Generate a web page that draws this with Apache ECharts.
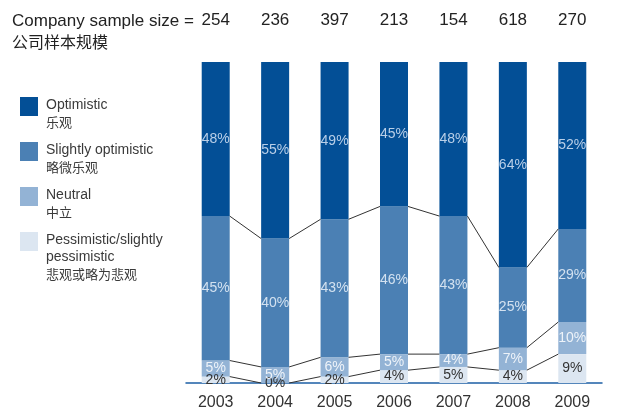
<!DOCTYPE html>
<html>
<head>
<meta charset="utf-8">
<script src="https://cdn.jsdelivr.net/npm/echarts@6/dist/echarts.min.js"></script>
<style>html,body{margin:0;padding:0;background:#fff;}#c{width:627px;height:411px;}</style>
</head>
<body>
<div id="c"></div>
<script>
var years = ['2003','2004','2005','2006','2007','2008','2009'];
var sampleSizes = ['254','236','397','213','154','618','270'];
var pessimistic = [2, 0, 2, 4, 5, 4, 9];
var neutral = [5, 5, 6, 5, 4, 7, 10];
var slightly = [45, 40, 43, 46, 43, 25, 29];
var optimistic = [48, 55, 49, 45, 48, 64, 52];
var seriesNames = ['Optimistic', 'Slightly optimistic', 'Neutral', 'Pessimistic/slightly pessimistic'];
var legendLines = [
  ['Optimistic', '乐观'],
  ['Slightly optimistic', '略微乐观'],
  ['Neutral', '中立'],
  ['Pessimistic/slightly', 'pessimistic', '悲观或略为悲观']
];
var colors = {opt: '#034f96', sl: '#4b80b4', neu: '#93b3d5', pes: '#dce6f1'};
var BW = 28;
var FONT = '"Liberation Sans", Arial, sans-serif';
var CJK = '"Noto Sans CJK SC", sans-serif';

var chart = echarts.init(document.getElementById('c'), null, {renderer: 'canvas'});

var b1 = [], b2 = [], b3 = [];
for (var i = 0; i < years.length; i++) {
  b1.push(pessimistic[i]);
  b2.push(pessimistic[i] + neutral[i]);
  b3.push(pessimistic[i] + neutral[i] + slightly[i]);
}
var connData = [];
for (var j = 0; j < years.length - 1; j++) {
  connData.push([j, b1[j], b2[j], b3[j], b1[j + 1], b2[j + 1], b3[j + 1]]);
}

function lbl(color) {
  return {show: true, position: 'inside', formatter: '{c}%', color: color, fontSize: 14, fontFamily: FONT};
}

var legendColors = [colors.opt, colors.sl, colors.neu, colors.pes];
var rectTops = [97, 142, 187, 232];
var graphics = [];
legendLines.forEach(function (lines, k) {
  var top = rectTops[k];
  graphics.push({type: 'rect', left: 20, top: top, shape: {width: 18, height: 19}, style: {fill: legendColors[k]}});
  lines.forEach(function (t, m) {
    var isCJK = /[\u4e00-\u9fff]/.test(t);
    graphics.push({type: 'text', x: 46, y: top + 8 + m * 17, style: {
      text: t, fill: '#3a3a3a', fontSize: isCJK ? 13 : 14, fontFamily: isCJK ? CJK : FONT, verticalAlign: 'middle'}});
  });
});
graphics.push({type: 'text', x: 12, y: 21, style: {text: 'Company sample size =', fill: '#222', fontSize: 17, fontFamily: FONT, verticalAlign: 'middle'}});
graphics.push({type: 'text', x: 12, y: 42, style: {text: '公司样本规模', fill: '#222', fontSize: 16, fontFamily: CJK, verticalAlign: 'middle'}});

var option = {
  animation: false,
  backgroundColor: '#fff',
  grid: {left: 186, right: 25, top: 62, bottom: 24},
  xAxis: [{
    type: 'category', data: years, position: 'bottom',
    axisLine: {lineStyle: {color: '#1d5fa5', width: 1.5}},
    axisTick: {show: false},
    axisLabel: {color: '#333', fontSize: 16, fontFamily: FONT, margin: 12}
  }, {
    type: 'category', data: sampleSizes, position: 'top',
    axisLine: {show: false}, axisTick: {show: false},
    axisLabel: {color: '#222', fontSize: 17, fontFamily: FONT, margin: 33}
  }],
  yAxis: {type: 'value', min: 0, max: 100, show: false, splitLine: {show: false}},
  graphic: graphics,
  series: [
    {name: seriesNames[3], type: 'bar', stack: 's', barWidth: BW, data: pessimistic, itemStyle: {color: colors.pes}, label: lbl('#333')},
    {name: seriesNames[2], type: 'bar', stack: 's', barWidth: BW, data: neutral, itemStyle: {color: colors.neu}, label: lbl('#eef3f9')},
    {name: seriesNames[1], type: 'bar', stack: 's', barWidth: BW, data: slightly, itemStyle: {color: colors.sl}, label: lbl('#d3e1f0')},
    {name: seriesNames[0], type: 'bar', stack: 's', barWidth: BW, data: optimistic, itemStyle: {color: colors.opt}, label: lbl('#b9cfe8')},
    {
      type: 'custom', xAxisIndex: 0, data: connData, z: 5,
      renderItem: function (params, api) {
        var idx = api.value(0);
        var children = [];
        for (var k = 1; k <= 3; k++) {
          var p1 = api.coord([idx, api.value(k)]);
          var p2 = api.coord([idx + 1, api.value(k + 3)]);
          children.push({
            type: 'line',
            shape: {x1: p1[0] + BW / 2, y1: p1[1], x2: p2[0] - BW / 2, y2: p2[1]},
            style: {stroke: '#333', lineWidth: 1}
          });
        }
        return {type: 'group', children: children};
      }
    }
  ]
};
chart.setOption(option);
</script>
</body>
</html>
